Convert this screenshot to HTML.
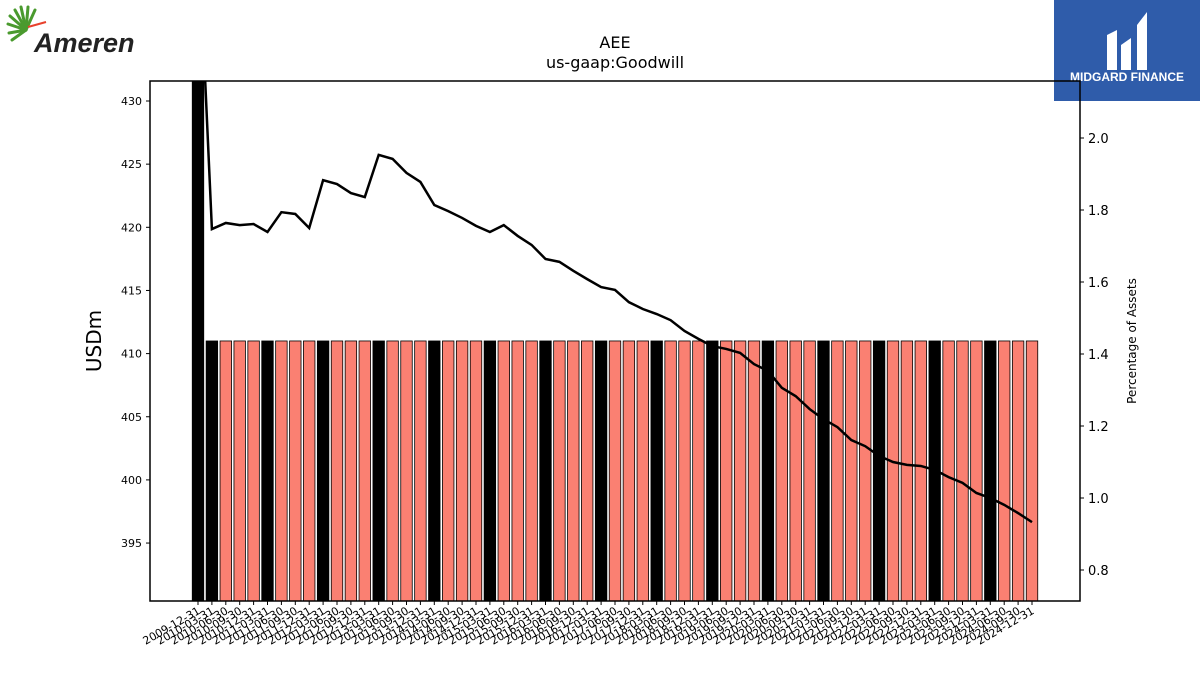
<!DOCTYPE html>
<html><head><meta charset="utf-8"><style>
body{margin:0;background:#fff;font-family:"Liberation Sans","DejaVu Sans",sans-serif}
</style></head><body>
<svg id="chart" width="1200" height="675" xmlns="http://www.w3.org/2000/svg" font-family="DejaVu Sans, Liberation Sans, sans-serif">
<g>
<g stroke="#4a9a2e" stroke-width="3" stroke-linecap="round">
<line x1="26" y1="30" x2="8" y2="24"/><line x1="26" y1="30" x2="10" y2="16"/><line x1="26" y1="30" x2="15" y2="10"/><line x1="26" y1="30" x2="21" y2="7"/><line x1="26" y1="30" x2="28" y2="7"/><line x1="26" y1="30" x2="35" y2="10"/><line x1="26" y1="30" x2="9" y2="33"/><line x1="26" y1="30" x2="12" y2="40"/></g>
<line x1="28" y1="27" x2="46" y2="22" stroke="#e8412c" stroke-width="2"/>
<text x="34" y="52" font-size="27" font-style="italic" font-weight="bold" fill="#222" font-family="Liberation Sans, sans-serif">Ameren</text>
</g>
<g>
<rect x="1054" y="0" width="146" height="101" fill="#2f5caa"/>
<path d="M1107 70 V35 L1117 30 V70 Z M1121 45 L1131 38 V70 H1121 Z M1137 25 L1147 12 V70 H1137 Z" fill="#fff"/>
<text x="1127" y="81" font-size="12" font-weight="bold" fill="#fff" text-anchor="middle" font-family="Liberation Sans, sans-serif">MIDGARD FINANCE</text>
</g>
<text x="615" y="48" font-size="16" text-anchor="middle">AEE</text>
<text x="615" y="68" font-size="16" text-anchor="middle">us-gaap:Goodwill</text>
<text transform="translate(101,341) rotate(-90)" font-size="20" text-anchor="middle">USDm</text>
<text transform="translate(1136,341) rotate(-90)" font-size="12" text-anchor="middle">Percentage of Assets</text>
<g id="bars"></g><g id="ticks"></g>
<path id="line" fill="none" stroke="#000" stroke-width="2.5"/>
<rect x="150" y="81" width="930" height="520" fill="none" stroke="#000" stroke-width="1.5"/>
</svg>
<script>
const dates=[];
const goodwill=[];
const pct=[2.6,1.747,1.764,1.758,1.761,1.739,1.794,1.789,1.75,1.883,1.872,1.847,1.836,1.953,1.942,1.903,1.878,1.814,1.797,1.778,1.756,1.739,1.758,1.728,1.703,1.664,1.656,1.631,1.608,1.586,1.578,1.544,1.525,1.511,1.494,1.464,1.442,1.422,1.414,1.403,1.372,1.353,1.306,1.283,1.247,1.219,1.197,1.161,1.144,1.117,1.1,1.092,1.089,1.078,1.058,1.042,1.014,1.0,0.981,0.958,0.933];
const leftTicks=[395,400,405,410,415,420,425,430];
const rightTicks=[0.8,1.0,1.2,1.4,1.6,1.8,2.0];
(function(){const q=["03-31","06-30","09-30","12-31"];dates.push("2009-12-31");for(let y=2010;y<=2024;y++)for(const s of q)dates.push(y+"-"+s);})();
for(let i=0;i<dates.length;i++)goodwill.push(i===0?900:411);
const NS="http://www.w3.org/2000/svg";
const X0=150,X1=1080,Y0=81,Y1=601;
const yL=v=>101+(430-v)*12.63;
const yR=p=>138+(2.0-p)*360;
const xB=i=>198+i*(1032-198)/(dates.length-1);
const svg=document.getElementById('chart');
function mk(t,a,p){const e=document.createElementNS(NS,t);for(const k in a)e.setAttribute(k,a[k]);(p||svg).appendChild(e);return e;}
const bg=document.getElementById('bars'),tg=document.getElementById('ticks');
const bw=11.5;
goodwill.forEach((v,i)=>{const top=Math.max(Y0,yL(v));
const r=mk('rect',{x:xB(i)-bw/2,y:top,width:bw,height:Y1-top,fill:(i%4===1||i===0)?'#000':'#fa8072',stroke:'#000','stroke-width':0.8},bg);


const t=mk('line',{x1:xB(i),x2:xB(i),y1:Y1,y2:Y1+4,stroke:'#000'},tg);


const l=mk('text',{transform:`translate(${xB(i)+3},${Y1+12}) rotate(-30)`,'font-size':11,'text-anchor':'end'},tg);l.textContent=dates[i];

});
leftTicks.forEach(v=>{const y=yL(v);mk('line',{x1:X0-4,x2:X0,y1:y,y2:y,stroke:'#000'},tg);
const l=mk('text',{x:X0-8,y:y+4,'font-size':11,'text-anchor':'end'},tg);l.textContent=v;

});
rightTicks.forEach(v=>{const y=yR(v);mk('line',{x1:X1,x2:X1+4,y1:y,y2:y,stroke:'#000'},tg);
const l=mk('text',{x:X1+8,y:y+5,'font-size':13},tg);l.textContent=v.toFixed(1);

});
let d='';pct.forEach((p,i)=>{d+=(i?'L':'M')+xB(i)+' '+yR(p);});
const ln=document.getElementById('line');ln.setAttribute('d',d);
const cp=mk('clipPath',{id:'clip'});mk('rect',{x:X0,y:Y0,width:X1-X0,height:Y1-Y0},cp);
ln.setAttribute('clip-path','url(#clip)');bg.setAttribute('clip-path','url(#clip)');
</script>
</body></html>
